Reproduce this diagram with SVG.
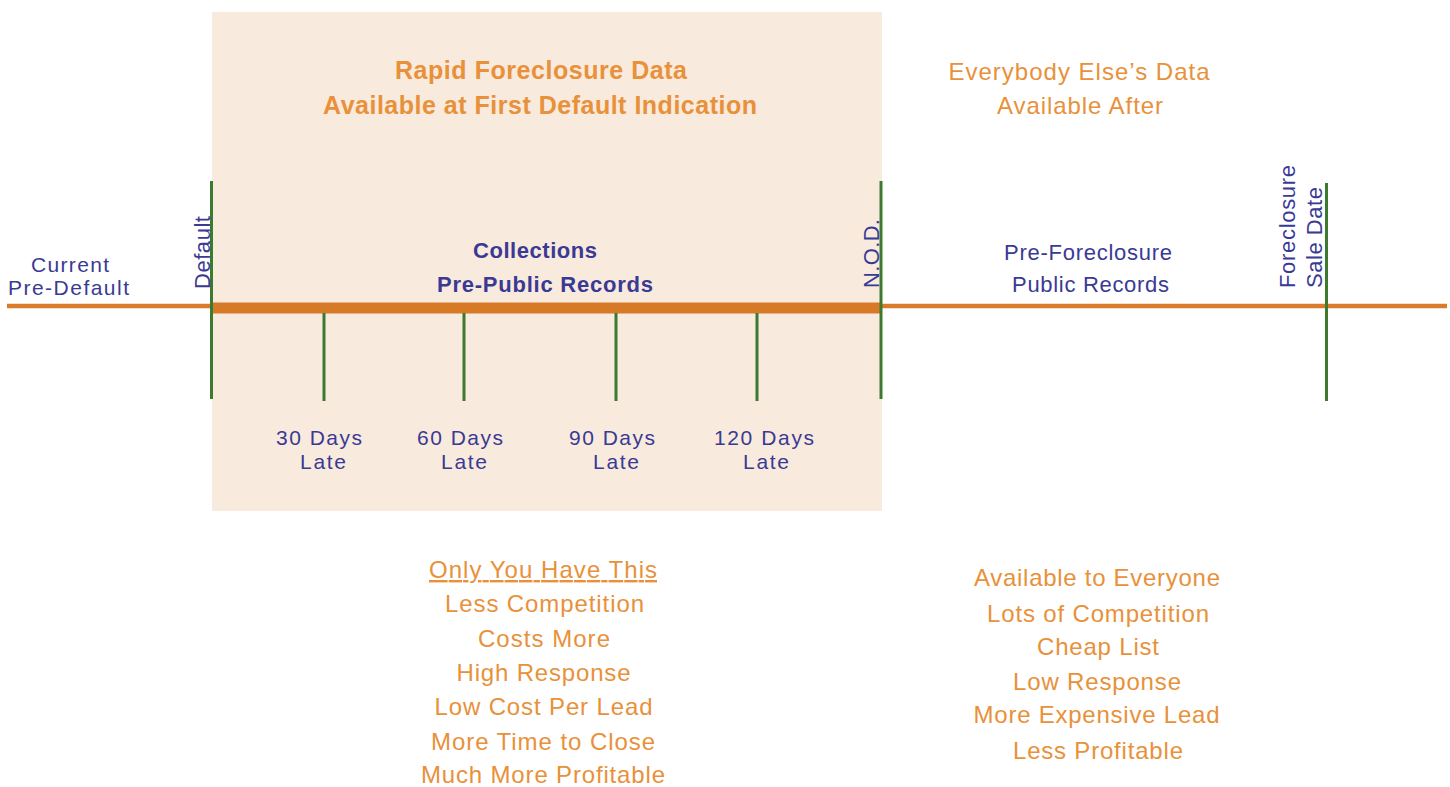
<svg xmlns="http://www.w3.org/2000/svg" width="1450" height="787" viewBox="0 0 1450 787">
<style>
text{font-family:"Liberation Sans",Arial,sans-serif;}
.nv{fill:#3a3a94;font-size:22px;}
.nvs{fill:#3a3a94;font-size:21px;}
.nvr{fill:#3a3a94;font-size:22px;}
.nvb{fill:#3a3a94;font-size:22px;font-weight:bold;}
.or{fill:#e8913a;font-size:24px;}
.orb{fill:#e8913a;font-size:25px;font-weight:bold;}
.c{text-anchor:middle;}
.g{stroke:#3d7a2f;stroke-width:3;}
</style>
<rect width="1450" height="787" fill="#ffffff"/>
<g id="zone">
<rect x="212" y="12" width="670" height="499" fill="#f8eadd"/>
<text class="orb c" x="541" y="79" textLength="292">Rapid Foreclosure Data</text>
<text class="orb c" x="540" y="114" textLength="434">Available at First Default Indication</text>
</g>
<g id="after">
<text class="or c" x="1079" y="80" font-size="25" textLength="261">Everybody Else’s Data</text>
<text class="or c" x="1080" y="114" font-size="25" textLength="166">Available After</text>
</g>
<g id="connectors">
<line x1="7" y1="306" x2="1447" y2="306" stroke="#d97b2a" stroke-width="4.5"/>
<line x1="212" y1="308" x2="880" y2="308" stroke="#d77a28" stroke-width="11"/>
<line class="g" x1="211.5" y1="181" x2="211.5" y2="399"/>
<line class="g" x1="881" y1="181" x2="881" y2="399"/>
<line class="g" x1="1326.5" y1="183" x2="1326.5" y2="401" stroke-width="2.5"/>
<line class="g" x1="324" y1="313" x2="324" y2="401"/>
<line class="g" x1="464" y1="313" x2="464" y2="401"/>
<line class="g" x1="616" y1="313" x2="616" y2="401"/>
<line class="g" x1="757" y1="313" x2="757" y2="401"/>
</g>
<g id="current">
<text class="nvs c" x="70" y="272" textLength="78">Current</text>
<text class="nvs c" x="68.5" y="295" textLength="121">Pre-Default</text>
</g>
<g id="default">
<text class="nvr" transform="translate(210,289) rotate(-90)" textLength="73">Default</text>
</g>
<g id="collections">
<text class="nvb c" x="535" y="258" textLength="124">Collections</text>
<text class="nvb c" x="545" y="292" textLength="216">Pre-Public Records</text>
</g>
<g id="nod">
<text class="nvr" transform="translate(879,288) rotate(-90)" textLength="69">N.O.D.</text>
</g>
<g id="preforeclosure">
<text class="nv c" x="1088" y="260" textLength="168">Pre-Foreclosure</text>
<text class="nv c" x="1090.5" y="292" textLength="157">Public Records</text>
</g>
<g id="saledate">
<text class="nvr" transform="translate(1295,288) rotate(-90)" textLength="123">Foreclosure</text>
<text class="nvr" transform="translate(1322,288) rotate(-90)" textLength="101">Sale Date</text>
</g>
<g id="d30"><text class="nvs c" x="319" y="445" textLength="86">30 Days</text><text class="nvs c" x="323" y="469" textLength="46">Late</text></g>
<g id="d60"><text class="nvs c" x="460" y="445" textLength="86">60 Days</text><text class="nvs c" x="464" y="469" textLength="46">Late</text></g>
<g id="d90"><text class="nvs c" x="612" y="445" textLength="86">90 Days</text><text class="nvs c" x="616" y="469" textLength="46">Late</text></g>
<g id="d120"><text class="nvs c" x="764" y="445" textLength="100">120 Days</text><text class="nvs c" x="766" y="469" textLength="46">Late</text></g>
<g id="leftlist">
<text class="or c" x="543" y="578" textLength="228" text-decoration="underline">Only You Have This</text>
<text class="or c" x="544.5" y="612" textLength="199">Less Competition</text>
<text class="or c" x="544" y="647" textLength="132">Costs More</text>
<text class="or c" x="543.5" y="681" textLength="174">High Response</text>
<text class="or c" x="543.5" y="715" textLength="218">Low Cost Per Lead</text>
<text class="or c" x="543" y="750" textLength="224">More Time to Close</text>
<text class="or c" x="543" y="783" textLength="244">Much More Profitable</text>
</g>
<g id="rightlist">
<text class="or c" x="1097" y="586" textLength="246">Available to Everyone</text>
<text class="or c" x="1098" y="622" textLength="222">Lots of Competition</text>
<text class="or c" x="1098" y="655" textLength="122">Cheap List</text>
<text class="or c" x="1097" y="690" textLength="168">Low Response</text>
<text class="or c" x="1096.5" y="723" textLength="246">More Expensive Lead</text>
<text class="or c" x="1098" y="759" textLength="170">Less Profitable</text>
</g>
</svg>
